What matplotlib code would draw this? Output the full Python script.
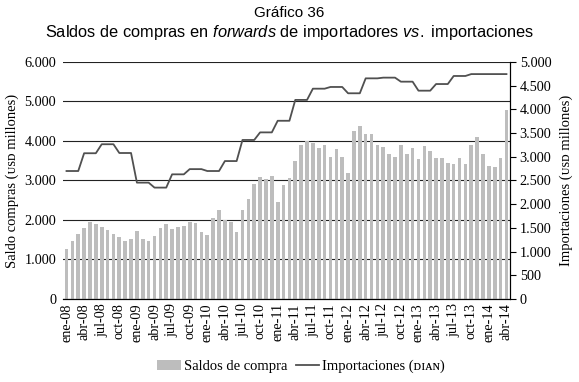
import numpy as np
import matplotlib
matplotlib.use("Agg")
import matplotlib.pyplot as plt
from matplotlib.patches import Patch
from matplotlib.lines import Line2D

# Datos mensuales ene-08 a abr-14 (USD millones)
meses_abrev = ["ene", "feb", "mar", "abr", "may", "jun",
               "jul", "ago", "sep", "oct", "nov", "dic"]
meses = [f"{m}-{a:02d}" for a in range(8, 15) for m in meses_abrev][:76]

saldos_compra = [1275, 1458, 1658, 1800, 1950, 1900, 1825, 1758, 1633, 1558, 1475, 1508,
                 1717, 1525, 1467, 1592, 1792, 1908, 1767, 1817, 1850, 1942, 1925, 1700,
                 1608, 2050, 2250, 2000, 1950, 1700, 2250, 2533, 2917, 3100, 3033, 3108,
                 2450, 2875, 3067, 3483, 3910, 4010, 3950, 3825, 3900, 3583, 3792, 3592,
                 3192, 4250, 4383, 4183, 4167, 3900, 3842, 3683, 3592, 3892, 3667, 3817,
                 3533, 3875, 3750, 3558, 3558, 3442, 3408, 3575, 3425, 3900, 4108, 3675,
                 3358, 3350, 3558, 4792]

# Importaciones (DIAN): dato trimestral repetido en cada mes
importaciones_trim = [2700, 3075, 3265, 3080, 2455, 2350, 2630, 2740, 2700, 2910,
                      3355, 3515, 3760, 4200, 4437, 4473, 4340, 4655, 4670, 4585,
                      4395, 4535, 4705, 4745, 4745, 4745]
importaciones = [v for v in importaciones_trim for _ in range(3)][:76]

serif = ["Liberation Serif", "DejaVu Serif", "DejaVu Sans"]
plt.rcParams["mathtext.fontset"] = "custom"
plt.rcParams["mathtext.rm"] = "Liberation Sans"
plt.rcParams["mathtext.it"] = "Liberation Sans:italic"

fig = plt.figure(figsize=(5.79, 3.82), dpi=100)
ax = fig.add_axes([0.1088, 0.2173, 0.772, 0.6204])
ax2 = ax.twinx()

x = np.arange(len(meses))
ax.bar(x, saldos_compra, width=0.62, color="#bdbdbd", zorder=2)
ax2.plot(x, importaciones, color="#505050", linewidth=1.3, zorder=3)

ax.set_zorder(ax2.get_zorder() - 1)
ax2.patch.set_visible(False)

ax.set_xlim(-0.6, 75.6)
ax.set_ylim(0, 6000)
ax2.set_ylim(0, 5000)

ax.set_yticks(np.arange(0, 6001, 1000))
ax.set_yticklabels([f"{v:,}".replace(",", ".") for v in range(0, 6001, 1000)])
ax2.set_yticks(np.arange(0, 5001, 500))
ax2.set_yticklabels([f"{v:,}".replace(",", ".") for v in range(0, 5001, 500)])

ax.set_xticks(x[::3])
ax.set_xticklabels(meses[::3], rotation=90)

for lbl in ax.get_xticklabels() + ax.get_yticklabels() + ax2.get_yticklabels():
    lbl.set_family(serif)
    lbl.set_fontsize(10.3)

ax.grid(axis="y", color="#222222", linewidth=0.8, zorder=1)
ax.tick_params(axis="x", length=0, pad=3)
ax.tick_params(axis="y", length=0, pad=5)
ax2.tick_params(axis="y", direction="out", length=4, width=0.8, pad=3)

for a in (ax, ax2):
    a.spines["top"].set_visible(False)
    a.spines["left"].set_visible(False)
    a.spines["bottom"].set_color("black")
ax2.spines["right"].set_linewidth(0.8)

ax.set_ylabel("Saldo compras (\u1d1cs\u1d05 millones)", family=serif, fontsize=10.5, labelpad=4)
ax2.set_ylabel("Importaciones (\u1d1cs\u1d05 millones)", family=serif, fontsize=10.5, labelpad=6)

fig.text(0.5, 0.966, "Gráfico 36", ha="center", va="center",
         family="Liberation Sans", fontsize=11)
fig.text(0.5, 0.914,
         r"Saldos de compras en $\it{forwards}$ de importadores $\it{vs.}$ importaciones",
         ha="center", va="center", family="Liberation Sans", fontsize=11.8)

handles = [Patch(facecolor="#bdbdbd", edgecolor="none"),
           Line2D([0], [0], color="#505050", linewidth=1.3)]
labels = ["Saldos de compra", "Importaciones (\u1d05\u026a\u1d00\u0274)"]
fig.legend(handles, labels, loc="center", bbox_to_anchor=(0.52, 0.04), ncol=2,
           frameon=False, prop={"family": serif, "size": 10.5},
           handlelength=1.6, handletextpad=0.2, columnspacing=0.6)

fig.savefig("out.png", dpi=100)
